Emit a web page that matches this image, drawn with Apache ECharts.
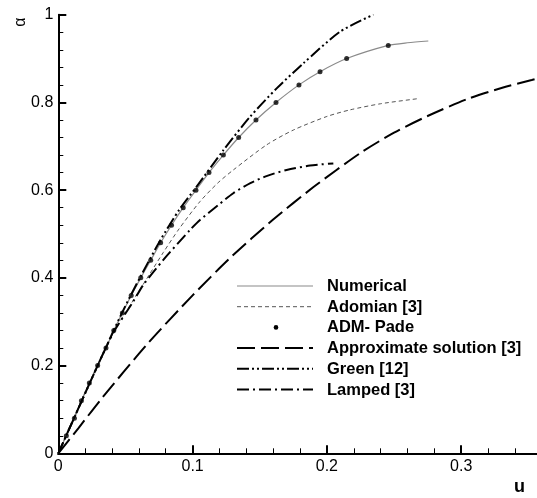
<!DOCTYPE html>
<html>
<head>
<meta charset="utf-8">
<style>
html,body{margin:0;padding:0;background:#fff;}
#chart{width:537px;height:498px;}
</style>
<script src="https://cdn.jsdelivr.net/npm/echarts@6/dist/echarts.min.js"></script>
</head>
<body>
<div id="chart"></div>
<script>
// ---- data ----
const xTickLabels = ['0', '0.1', '0.2', '0.3', '0.4'];
const yTickLabels = ['0', '0.2', '0.4', '0.6', '0.8', '1'];
const seriesNames = ['Numerical', 'Adomian [3]', 'ADM- Pade', 'Approximate solution [3]', 'Green [12]', 'Lamped [3]'];

const numU = [0, 0.006, 0.012, 0.0172, 0.0231, 0.0293, 0.0355, 0.0413, 0.0477, 0.0543, 0.0614, 0.0688, 0.0762, 0.0843, 0.093, 0.1025, 0.1122, 0.1229, 0.1343, 0.1472, 0.1621, 0.1792, 0.1949, 0.2147, 0.2457, 0.26, 0.2755];
const numA = [0, 0.04, 0.08, 0.12, 0.16, 0.2, 0.24, 0.28, 0.32, 0.36, 0.4, 0.44, 0.48, 0.52, 0.56, 0.6, 0.64, 0.68, 0.72, 0.76, 0.8, 0.84, 0.87, 0.9, 0.93, 0.936, 0.94];

const padeU = [0.006, 0.012, 0.0172, 0.0231, 0.0293, 0.0355, 0.0413, 0.0477, 0.0543, 0.0614, 0.0688, 0.0762, 0.0843, 0.093, 0.1025, 0.1122, 0.1229, 0.1343, 0.1472, 0.1621, 0.1792, 0.1949, 0.2147, 0.2457];
const padeA = [0.04, 0.08, 0.12, 0.16, 0.2, 0.24, 0.28, 0.32, 0.36, 0.4, 0.44, 0.48, 0.52, 0.56, 0.6, 0.64, 0.68, 0.72, 0.76, 0.8, 0.84, 0.87, 0.9, 0.93];

const adoU = [0, 0.02, 0.04, 0.055, 0.0683, 0.0782, 0.09, 0.1055, 0.119, 0.1303, 0.155, 0.175, 0.2, 0.2172, 0.24, 0.2676];
const adoA = [0, 0.138, 0.27, 0.345, 0.41, 0.458, 0.512, 0.574, 0.617, 0.646, 0.703, 0.737, 0.768, 0.783, 0.797, 0.8085];

const approxU = [0, 0.0149, 0.0323, 0.0665, 0.1, 0.1278, 0.16, 0.19, 0.2246, 0.25, 0.275, 0.304, 0.33, 0.3525, 0.36];
const approxA = [0, 0.057, 0.125, 0.25, 0.36, 0.445, 0.533, 0.607, 0.684, 0.731, 0.769, 0.807, 0.833, 0.851, 0.857];

const greenU = [0, 0.0293, 0.0477, 0.0614, 0.0762, 0.09, 0.103, 0.1229, 0.1427, 0.1626, 0.1824, 0.2097, 0.2346];
const greenA = [0, 0.2, 0.322, 0.404, 0.487, 0.555, 0.608, 0.691, 0.767, 0.832, 0.889, 0.961, 1.0];

const lampU = [0, 0.0293, 0.041, 0.0558, 0.0633, 0.0782, 0.098, 0.1055, 0.1191, 0.1303, 0.143, 0.155, 0.17, 0.1874, 0.2048];
const lampA = [0, 0.2, 0.275, 0.346, 0.384, 0.441, 0.509, 0.532, 0.566, 0.593, 0.616, 0.632, 0.646, 0.656, 0.661];

// ---- styles ----
const zip = (a, b) => a.map((v, i) => [v, b[i]]);
const styles = [
  { color: '#8a8a8a', width: 1.2, type: 'solid' },
  { color: '#555555', width: 1, type: [4, 3] },
  null,
  { color: '#000000', width: 2, type: [18, 6] },
  { color: '#000000', width: 2, type: [12, 3, 2, 3, 2, 3] },
  { color: '#000000', width: 2, type: [12, 4, 2, 4] }
];
const FONT = '"Liberation Sans", Arial, sans-serif';

function lineSeries(name, u, a, st) {
  return {
    name: name, type: 'line', data: zip(u, a), symbol: 'none',
    smooth: 0.25, z: 2,
    lineStyle: { color: st.color, width: st.width, type: st.type },
    silent: true
  };
}

const series = [
  lineSeries(seriesNames[0], numU, numA, styles[0]),
  lineSeries(seriesNames[1], adoU, adoA, styles[1]),
  {
    name: seriesNames[2], type: 'scatter', data: zip(padeU, padeA),
    symbol: 'circle', symbolSize: 5, itemStyle: { color: '#000' }, z: 3, silent: true
  },
  lineSeries(seriesNames[3], approxU, approxA, styles[3]),
  lineSeries(seriesNames[4], greenU, greenA, styles[4]),
  lineSeries(seriesNames[5], lampU, lampA, styles[5])
];

// ---- legend drawn as graphic ----
const legX1 = 237, legX2 = 313, legTextX = 327, legY0 = 286, legDy = 20.7;
const graphic = [];
seriesNames.forEach((n, i) => {
  const y = legY0 + i * legDy;
  if (styles[i]) {
    graphic.push({
      type: 'line', silent: true,
      shape: { x1: legX1, y1: y, x2: legX2, y2: y },
      style: { stroke: styles[i].color, lineWidth: styles[i].width,
               lineDash: Array.isArray(styles[i].type) ? styles[i].type : null }
    });
  } else {
    graphic.push({ type: 'circle', silent: true, shape: { cx: 276, cy: y, r: 2.3 }, style: { fill: '#000' } });
  }
  graphic.push({
    type: 'text', silent: true, x: legTextX, y: y + 0.5,
    style: { text: n, font: 'bold 16.5px ' + FONT, fill: '#000', verticalAlign: 'middle', align: 'left' }
  });
});
graphic.push({
  type: 'text', silent: true, x: 21, y: 22, rotation: Math.PI / 2,
  style: { text: 'α', font: '16px ' + FONT, fill: '#000', align: 'center', verticalAlign: 'middle' }
});
graphic.push({
  type: 'text', silent: true, x: 514, y: 487,
  style: { text: 'u', font: 'bold 18px ' + FONT, fill: '#000', align: 'left', verticalAlign: 'middle' }
});

const axisCommon = {
  type: 'value', min: 0,
  axisLine: { show: true, onZero: false, lineStyle: { color: '#000', width: 2 } },
  axisTick: { show: true, inside: true, length: 8, lineStyle: { color: '#000', width: 2 } },
  minorTick: { show: true, splitNumber: 5, length: 5, lineStyle: { color: '#000', width: 1 } },
  splitLine: { show: false },
  axisLabel: { color: '#000', fontSize: 16, fontFamily: FONT }
};

const option = {
  animation: false,
  backgroundColor: '#fff',
  grid: { left: 58.3, top: 14.7, width: 537.2, height: 438.6, containLabel: false, outerBoundsMode: 'none' },
  xAxis: [
    Object.assign({}, axisCommon, {
      max: 0.4, interval: 0.1, position: 'bottom',
      axisLabel: Object.assign({}, axisCommon.axisLabel, { margin: 5,
        formatter: v => xTickLabels[Math.round(v / 0.1)] })
    }),
    { type: 'value', min: 0, max: 0.4, position: 'top',
      axisLine: { show: true, lineStyle: { color: '#000', width: 2 } },
      axisTick: { show: false }, axisLabel: { show: false }, splitLine: { show: false } }
  ],
  yAxis: [
    Object.assign({}, axisCommon, {
      max: 1, interval: 0.2,
      axisLabel: Object.assign({}, axisCommon.axisLabel, { margin: 5,
        formatter: v => yTickLabels[Math.round(v / 0.2)] })
    })
  ],
  series: series,
  graphic: graphic
};

const chart = echarts.init(document.getElementById('chart'), null, { renderer: 'canvas' });
chart.setOption(option);
</script>
</body>
</html>
